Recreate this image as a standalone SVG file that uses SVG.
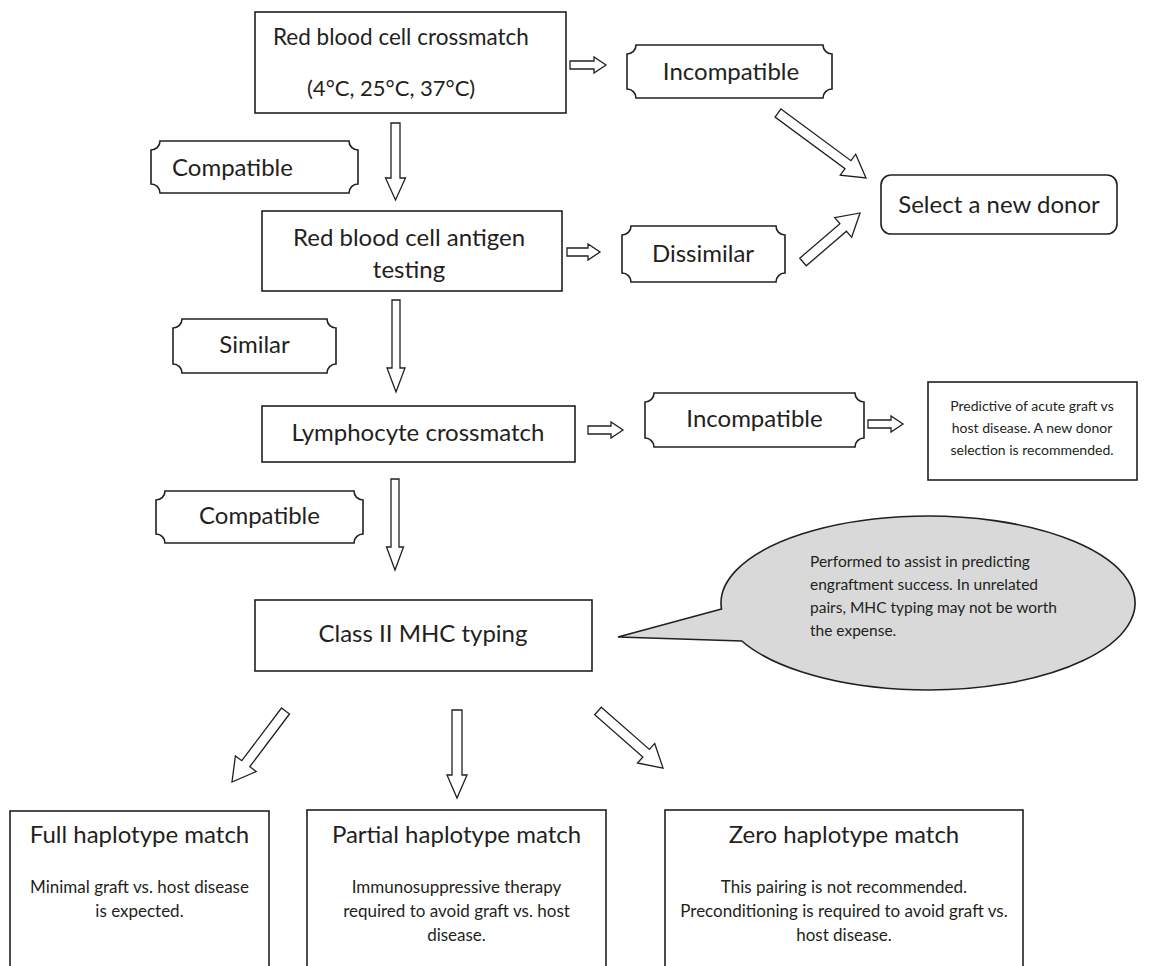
<svg xmlns="http://www.w3.org/2000/svg" width="1154" height="966" viewBox="0 0 1154 966">
  <style>
    .box { fill: #ffffff; stroke: #231f20; stroke-width: 1.6; }
    .tag { fill: #ffffff; stroke: #231f20; stroke-width: 1.6; }
    .arrow { fill: #ffffff; stroke: #231f20; stroke-width: 1.3; stroke-linejoin: miter; }
    .bubble { fill: #d9d9d9; stroke: #231f20; stroke-width: 1.6; }
    text { font-family: Lato, "Open Sans", "Liberation Sans", sans-serif; fill: #231f20; }
    .t { font-size: 24px; }
    .h { font-size: 24px; text-anchor: middle; }
    .b { font-size: 17px; text-anchor: middle; }
    .s { font-size: 14px; text-anchor: middle; }
    .c { font-size: 15.5px; }
    .mid { text-anchor: middle; }
  </style>
  <rect width="1154" height="966" fill="#ffffff"/>

  <!-- connectors: hollow block arrows drawn along +x, then placed -->
  <g id="connectors">
    <path class="arrow" transform="translate(570,65)" d="M0,-4 H24 V-8 L36,0 L24,8 V4 H0 Z"/>
    <path class="arrow" transform="translate(395.5,123) rotate(90)" d="M0,-4.5 H55 V-10 L77,0 L55,10 V4.5 H0 Z"/>
    <path class="arrow" transform="translate(778,113) rotate(36.45)" d="M0,-5 H87 V-13 L109.4,0 L87,13 V5 H0 Z"/>
    <path class="arrow" transform="translate(567,252)" d="M0,-4 H21 V-8 L33,0 L21,8 V4 H0 Z"/>
    <path class="arrow" transform="translate(803,262) rotate(-40.68)" d="M0,-5 H53 V-13 L75.2,0 L53,13 V5 H0 Z"/>
    <path class="arrow" transform="translate(396,300) rotate(90)" d="M0,-4 H68 V-9 L92,0 L68,9 V4 H0 Z"/>
    <path class="arrow" transform="translate(588,430)" d="M0,-4 H23 V-8 L35,0 L23,8 V4 H0 Z"/>
    <path class="arrow" transform="translate(868,424)" d="M0,-4 H23 V-8 L35,0 L23,8 V4 H0 Z"/>
    <path class="arrow" transform="translate(395,479) rotate(90)" d="M0,-4 H68 V-8.5 L91,0 L68,8.5 V4 H0 Z"/>
    <path class="arrow" transform="translate(285.5,711) rotate(127)" d="M0,-5 H66 V-13 L88.9,0 L66,13 V5 H0 Z"/>
    <path class="arrow" transform="translate(457,710) rotate(90)" d="M0,-5 H65 V-10 L88,0 L65,10 V5 H0 Z"/>
    <path class="arrow" transform="translate(598,711) rotate(41.25)" d="M0,-5 H64 V-13 L86.5,0 L64,13 V5 H0 Z"/>
  </g>

  <g id="rbc-crossmatch">
    <rect class="box" x="255" y="12" width="311" height="101"/>
    <text x="273" y="45" font-size="22.5">Red blood cell crossmatch</text>
    <text x="307" y="96" font-size="22">(4°C, 25°C, 37°C)</text>
  </g>

  <g id="incompatible-1">
    <path class="tag" d="M636,45 H823 A9,9 0 0 0 832,54 V89 A9,9 0 0 0 823,98 H636 A9,9 0 0 0 627,89 V54 A9,9 0 0 0 636,45 Z"/>
    <text class="t mid" x="731" y="80">Incompatible</text>
  </g>

  <g id="compatible-1">
    <path class="tag" d="M160,141 H349 A9,9 0 0 0 358,150 V184 A9,9 0 0 0 349,193 H160 A9,9 0 0 0 151,184 V150 A9,9 0 0 0 160,141 Z"/>
    <text class="t" x="172" y="176">Compatible</text>
  </g>

  <g id="select-donor">
    <rect class="box" x="881" y="175" width="236" height="59" rx="10" ry="10"/>
    <text class="t mid" x="999" y="213">Select a new donor</text>
  </g>

  <g id="rbc-antigen">
    <rect class="box" x="262" y="211" width="300" height="80"/>
    <text class="t mid" x="409" y="246">Red blood cell antigen</text>
    <text class="t mid" x="409" y="278">testing</text>
  </g>

  <g id="dissimilar">
    <path class="tag" d="M631,226 H776 A9,9 0 0 0 785,235 V273 A9,9 0 0 0 776,282 H631 A9,9 0 0 0 622,273 V235 A9,9 0 0 0 631,226 Z"/>
    <text class="t mid" x="703" y="262">Dissimilar</text>
  </g>

  <g id="similar">
    <path class="tag" d="M182,319 H327 A9,9 0 0 0 336,328 V364 A9,9 0 0 0 327,373 H182 A9,9 0 0 0 173,364 V328 A9,9 0 0 0 182,319 Z"/>
    <text class="t mid" x="254.5" y="353">Similar</text>
  </g>

  <g id="lymphocyte-crossmatch">
    <rect class="box" x="262" y="406" width="313" height="56"/>
    <text class="t mid" x="418" y="441">Lymphocyte crossmatch</text>
  </g>

  <g id="incompatible-2">
    <path class="tag" d="M654,393 H855 A9,9 0 0 0 864,402 V438 A9,9 0 0 0 855,447 H654 A9,9 0 0 0 645,438 V402 A9,9 0 0 0 654,393 Z"/>
    <text class="t mid" x="754.5" y="427">Incompatible</text>
  </g>

  <g id="gvhd-note">
    <rect class="box" x="928" y="382" width="209" height="98"/>
    <text class="s" x="1032" y="411">Predictive of acute graft vs</text>
    <text class="s" x="1032" y="433">host disease. A new donor</text>
    <text class="s" x="1032" y="455">selection is recommended.</text>
  </g>

  <g id="compatible-2">
    <path class="tag" d="M165,491 H354 A9,9 0 0 0 363,500 V534 A9,9 0 0 0 354,543 H165 A9,9 0 0 0 156,534 V500 A9,9 0 0 0 165,491 Z"/>
    <text class="t mid" x="259.5" y="524">Compatible</text>
  </g>

  <g id="mhc-typing">
    <rect class="box" x="255" y="600" width="337" height="71"/>
    <text class="t mid" x="423" y="642">Class II MHC typing</text>
  </g>

  <g id="mhc-callout">
    <path class="bubble" d="M721.5,609 L618,637 L741.8,641 A207,87 0 1 0 721.5,609 Z"/>
    <text class="c" x="810" y="567">Performed to assist in predicting</text>
    <text class="c" x="810" y="590">engraftment success. In unrelated</text>
    <text class="c" x="810" y="613">pairs, MHC typing may not be worth</text>
    <text class="c" x="810" y="636">the expense.</text>
  </g>

  <g id="full-match">
    <rect class="box" x="10" y="811" width="259" height="200"/>
    <text class="h" x="139.5" y="843">Full haplotype match</text>
    <text class="b" x="139.5" y="893">Minimal graft vs. host disease</text>
    <text class="b" x="139.5" y="917">is expected.</text>
  </g>

  <g id="partial-match">
    <rect class="box" x="307" y="810" width="299" height="200"/>
    <text class="h" x="456.5" y="843">Partial haplotype match</text>
    <text class="b" x="456.5" y="893">Immunosuppressive therapy</text>
    <text class="b" x="456.5" y="917">required to avoid graft vs. host</text>
    <text class="b" x="456.5" y="941">disease.</text>
  </g>

  <g id="zero-match">
    <rect class="box" x="665" y="810" width="358" height="200"/>
    <text class="h" x="844" y="843">Zero haplotype match</text>
    <text class="b" x="844" y="893">This pairing is not recommended.</text>
    <text class="b" x="844" y="917">Preconditioning is required to avoid graft vs.</text>
    <text class="b" x="844" y="941">host disease.</text>
  </g>
</svg>
